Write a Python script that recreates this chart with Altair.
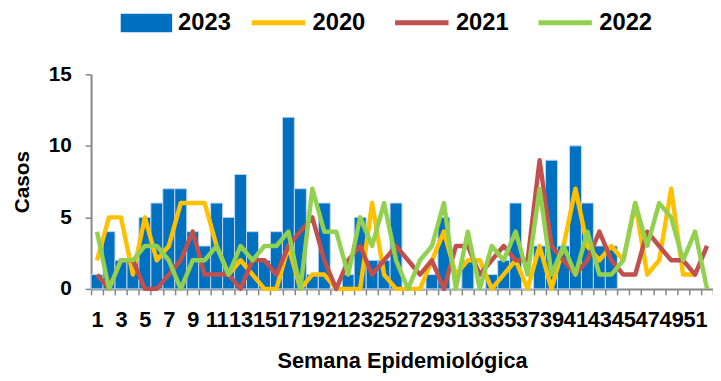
import altair as alt
import pandas as pd

weeks = list(range(1, 53))

cases_2023 = [1, 4, 2, 2, 5, 6, 7, 7, 4, 3,
              6, 5, 8, 4, 2, 4, 12, 7, 1, 6,
              0, 1, 5, 2, 2, 6, 0, 0, 1, 5,
              0, 2, 0, 1, 2, 6, 0, 3, 9, 3,
              10, 6, 3, 3]

cases_2020 = [2, 5, 5, 1, 5, 2, 3, 6, 6, 6,
              3, 1, 2, 1, 0, 0, 3, 0, 1, 1,
              0, 0, 0, 6, 1, 0, 0, 0, 2, 4,
              1, 2, 2, 0, 1, 2, 0, 3, 0, 3,
              7, 3, 2, 3, 2, 6, 1, 2, 7, 1,
              1]

cases_2021 = [1, 0, 2, 2, 0, 0, 1, 2, 4, 1,
              1, 1, 0, 2, 2, 1, 3, 4, 5, 2,
              0, 2, 3, 1, 2, 3, 2, 1, 2, 0,
              3, 3, 1, 2, 3, 2, 2, 9, 3, 2,
              1, 2, 4, 2, 1, 1, 4, 3, 2, 2,
              1, 3]

cases_2022 = [4, 0, 2, 2, 3, 3, 2, 0, 2, 2,
              3, 1, 3, 2, 3, 3, 4, 0, 7, 4,
              4, 1, 5, 3, 6, 2, 0, 2, 3, 6,
              0, 4, 0, 3, 2, 4, 1, 7, 1, 3,
              1, 4, 1, 1, 2, 6, 3, 6, 5, 2,
              4, 0]

line_series = {"2020": cases_2020, "2021": cases_2021, "2022": cases_2022}
line_colors = ["#FFC000", "#C0504D", "#92D050"]
bar_color = "#0070C0"

FONT = "Liberation Sans, Arial, sans-serif"

bar_df = pd.DataFrame({"week": weeks[:len(cases_2023)], "casos": cases_2023, "serie": "2023"})
rows = []
for name, vals in line_series.items():
    for w, v in zip(weeks, vals):
        rows.append({"week": w, "casos": v, "serie": name})
line_df = pd.DataFrame(rows)

x_enc = alt.X(
    "week:O",
    scale=alt.Scale(domain=weeks, paddingInner=0, paddingOuter=0),
    axis=alt.Axis(
        title="Semana Epidemiológica",
        labelAngle=0,
        labelExpr="datum.value % 2 == 1 ? datum.label : ''",
        tickBand="extent",
        tickSize=6,
        labelPadding=15,
        titlePadding=20,
        labelFontSize=22,
        titleFontSize=22,
    ),
)
y_enc = alt.Y(
    "casos:Q",
    scale=alt.Scale(domain=[0, 15], nice=False),
    axis=alt.Axis(title="Casos", values=[0, 5, 10, 15], tickSize=6,
                  labelPadding=14, titlePadding=16, grid=False,
                  labelFontSize=21, titleFontSize=21),
)

bars = alt.Chart(bar_df).mark_bar(stroke="#BDD7EE", strokeWidth=1).encode(
    x=x_enc,
    y=y_enc,
    fill=alt.Fill(
        "serie:N",
        scale=alt.Scale(domain=["2023"], range=[bar_color]),
        legend=alt.Legend(
            title=None, orient="none", legendX=30, legendY=-78,
            symbolType="M-1,-0.36H1V0.36H-1Z", symbolSize=2704,
            symbolStrokeWidth=0, labelOffset=6,
        ),
    ),
)

lines = alt.Chart(line_df).mark_line(strokeWidth=4.5, strokeJoin="round").encode(
    x=alt.X("week:O"),
    y=alt.Y("casos:Q"),
    stroke=alt.Stroke(
        "serie:N",
        scale=alt.Scale(domain=list(line_series.keys()), range=line_colors),
        legend=alt.Legend(
            title=None, orient="none", legendX=160, legendY=-82,
            direction="horizontal", symbolType="stroke", symbolSize=2916,
            symbolStrokeWidth=5, labelOffset=5, columnPadding=19,
        ),
    ),
)

chart = alt.layer(bars, lines).resolve_scale(fill="independent", stroke="independent").properties(
    width=629,
    height=217,
    autosize=alt.AutoSizeParams(type="none"),
    padding={"left": 84, "top": 65, "right": 0, "bottom": 85},
).configure_view(stroke=None).configure_axis(
    domainColor="#868686",
    domainWidth=2,
    tickColor="#868686",
    tickWidth=1.5,
    labelFont=FONT,
    labelFontWeight="bold",
    labelColor="black",
    titleFont=FONT,
    titleFontWeight="bold",
    titleColor="black",
).configure_legend(
    labelFont=FONT,
    labelFontWeight="bold",
    labelFontSize=24,
    labelColor="black",
    padding=0,
)

chart.save("out.html", embed_options={"renderer": "svg", "actions": False})
